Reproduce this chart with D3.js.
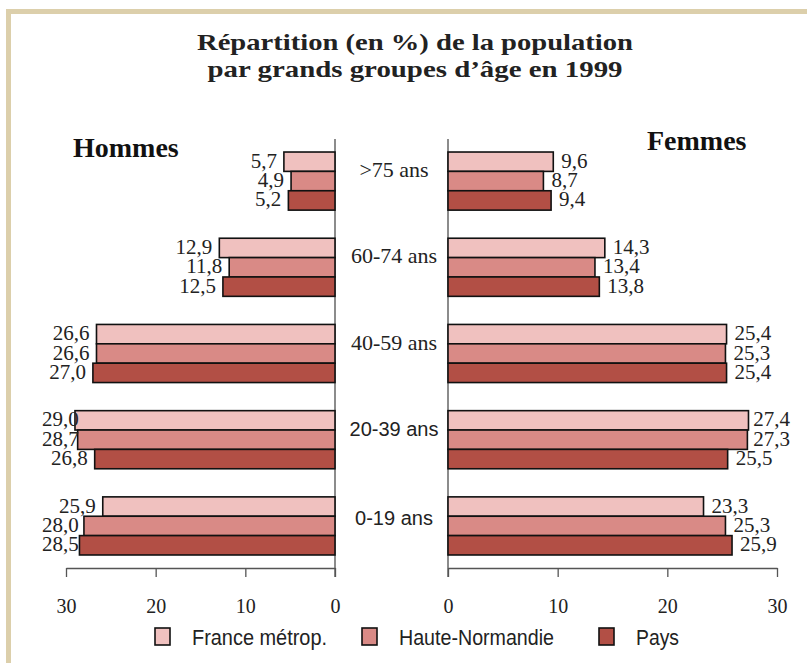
<!DOCTYPE html>
<html><head><meta charset="utf-8">
<script src="https://cdn.jsdelivr.net/npm/d3@7"></script>
<style>body{margin:0;background:#fff}svg{display:block}</style>
</head><body>
<script>
const categories = [">75 ans", "60-74 ans", "40-59 ans", "20-39 ans", "0-19 ans"];
const series = ["France métrop.", "Haute-Normandie", "Pays"];
const hommesFrance = [5.7, 12.9, 26.6, 29.0, 25.9];
const hommesHN     = [4.9, 11.8, 26.6, 28.7, 28.0];
const hommesPays   = [5.2, 12.5, 27.0, 26.8, 28.5];
const femmesFrance = [9.6, 14.3, 25.4, 27.4, 23.3];
const femmesHN     = [8.7, 13.4, 25.3, 27.3, 25.3];
const femmesPays   = [9.4, 13.8, 25.4, 25.5, 25.9];
const tickValues = [0, 10, 20, 30];
const titleLines = ["Répartition (en %) de la population", "par grands groupes d’âge en 1999"];

const W = 807, H = 663;
const colors = ["#f0c1bf", "#d98a86", "#b24f45"];
const serif = "'Liberation Serif', 'Times New Roman', serif";
const sans = "'Liberation Sans', Arial, sans-serif";

const svg = d3.select("body").append("svg").attr("width", W).attr("height", H);

// frame
svg.append("rect").attr("x", 6).attr("y", 9).attr("width", W - 6).attr("height", 5).attr("fill", "#dccfab");
svg.append("rect").attr("x", 6).attr("y", 9).attr("width", 5).attr("height", H - 9).attr("fill", "#dccfab");

// title
const tW = [436, 415], tY = [50, 77];
titleLines.forEach((t, i) => {
  svg.append("text").attr("x", 415).attr("y", tY[i]).attr("text-anchor", "middle")
    .attr("font-family", serif).attr("font-weight", "bold").attr("font-size", 24)
    .attr("fill", "#222").attr("textLength", tW[i]).attr("lengthAdjust", "spacingAndGlyphs").text(t);
});

const xL = d3.scaleLinear().domain([0, 30]).range([335, 66]);
const xR = d3.scaleLinear().domain([0, 30]).range([448, 777]);
const axisY = 568;
const y = d3.scaleBand().domain(categories).range([139, axisY]).paddingInner(0.326).paddingOuter(0.151);
const yIn = d3.scaleBand().domain(series).range([0, y.bandwidth()]);

const fmt = v => d3.format(".1f")(v).replace(".", ",");

const hommes = [hommesFrance, hommesHN, hommesPays];
const femmes = [femmesFrance, femmesHN, femmesPays];

function side(data, x, isLeft) {
  const g = svg.append("g");
  g.append("line").attr("x1", x(0)).attr("x2", x(0)).attr("y1", 139).attr("y2", axisY + 9)
    .attr("stroke", "#666").attr("stroke-width", 1.5);
  data.forEach((vals, s) => {
    vals.forEach((v, i) => {
      const yy = y(categories[i]) + yIn(series[s]);
      const x0 = Math.min(x(0), x(v)), x1 = Math.max(x(0), x(v));
      g.append("rect").attr("x", x0).attr("y", yy).attr("width", x1 - x0).attr("height", yIn.bandwidth())
        .attr("fill", colors[s]).attr("stroke", "#111").attr("stroke-width", 1.6);
      const t = g.append("text").attr("y", yy + yIn.bandwidth() / 2 + 6)
        .attr("font-family", serif).attr("font-size", 21).attr("fill", "#222").text(fmt(v));
      const w = t.node().getComputedTextLength();
      if (isLeft) {
        const xe = Math.max(x(v) - 7, 42 + w);
        t.attr("x", xe).attr("text-anchor", "end");
      } else {
        const xs = Math.min(x(v) + 8, 790 - w);
        t.attr("x", xs).attr("text-anchor", "start");
      }
    });
  });
  const ax = g.append("g").attr("transform", `translate(0,${axisY})`)
    .call(d3.axisBottom(x).tickValues(tickValues).tickSize(9).tickSizeOuter(0).tickFormat(d3.format("d")));
  ax.select(".domain").attr("stroke", "#555").attr("stroke-width", 1.3);
  ax.selectAll(".tick line").attr("stroke", "#555").attr("stroke-width", 1.3);
  ax.selectAll(".tick text").attr("y", 45).attr("dy", 0).attr("font-family", serif)
    .attr("font-size", 20).attr("fill", "#222");
}
side(hommes, xL, true);
side(femmes, xR, false);

// category labels
categories.forEach((c, i) => {
  svg.append("text").attr("x", 394).attr("y", y(c) + y.bandwidth() / 2 - (i < 4 ? 4 : 1))
    .attr("text-anchor", "middle")
    .attr("font-family", i < 3 ? serif : sans).attr("font-size", i < 3 ? 22 : 20)
    .attr("fill", "#222").text(c);
});

// side headers
svg.append("text").attr("x", 73).attr("y", 157).attr("font-family", serif).attr("font-weight", "bold")
  .attr("font-size", 28).attr("fill", "#111").text("Hommes");
svg.append("text").attr("x", 647).attr("y", 150).attr("font-family", serif).attr("font-weight", "bold")
  .attr("font-size", 28).attr("fill", "#111").text("Femmes");

// legend
const legX = [155, 362, 599], legTW = [135, 155, 43];
series.forEach((s, i) => {
  svg.append("rect").attr("x", legX[i]).attr("y", 628).attr("width", 15).attr("height", 17)
    .attr("fill", colors[i]).attr("stroke", "#111").attr("stroke-width", 1.6);
  svg.append("text").attr("x", legX[i] + 37).attr("y", 645).attr("font-family", sans)
    .attr("font-size", 22).attr("fill", "#222")
    .attr("textLength", legTW[i]).attr("lengthAdjust", "spacingAndGlyphs").text(s);
});
</script>
</body></html>
